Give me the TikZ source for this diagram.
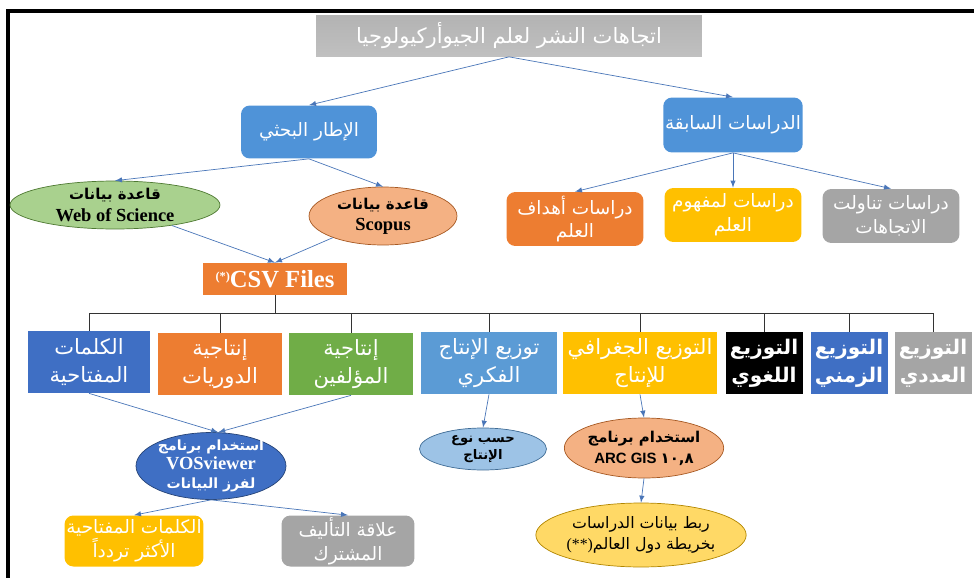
\documentclass[tikz,border=0pt]{standalone}
\usepackage{fontspec}
\setmainfont{Liberation Serif}
\setsansfont{Liberation Sans}
\newfontfamily\arabicfont[Script=Arabic]{DejaVu Sans}
\TeXXeTstate=1
\usetikzlibrary{shapes.geometric}

\newcommand\ar[1]{{\arabicfont\beginR #1\endR}}

\definecolor{titlegray}{HTML}{A0A0A0}
\definecolor{midblue}{HTML}{4F93D8}
\definecolor{darkblue}{HTML}{3F6FC4}
\definecolor{skyblue}{HTML}{5B9BD5}
\definecolor{boxorange}{HTML}{ED7D31}
\definecolor{boxyellow}{HTML}{FFC000}
\definecolor{boxgray}{HTML}{A5A5A5}
\definecolor{boxgreen}{HTML}{70AD47}
\definecolor{arrowblue}{HTML}{4A76B8}
\definecolor{wosgreen}{HTML}{A9D18E}
\definecolor{salmon}{HTML}{F4B183}
\definecolor{lightblue}{HTML}{9DC3E6}
\definecolor{lightyellow}{HTML}{FFD966}

\begin{document}
\begin{tikzpicture}[x=0.02cm, y=-0.02cm, >=latex]
    \useasboundingbox (0,0) rectangle (974,578);

    \tikzstyle{box} = [rectangle, text=white, align=center, inner sep=1pt, font=\arabicfont\fontsize{12}{16}\selectfont]
    \tikzstyle{narrow} = [box, font=\arabicfont\bfseries\fontsize{11.5}{16}\selectfont]
    \tikzstyle{rbox} = [box, rounded corners=5pt, font=\arabicfont\fontsize{10.5}{13.5}\selectfont]
    \tikzstyle{ell} = [ellipse, draw, align=center, inner xsep=0pt, inner ysep=-2pt, font=\arabicfont\bfseries\fontsize{8.5}{12}\selectfont]
    \tikzstyle{arr} = [->, arrowblue]
    \tikzstyle{tree} = [black!80]

    % frame
    \draw[line width=2.4pt] (8,578) -- (8,11) -- (974,11);

    \node[box, top color=titlegray!80, bottom color=titlegray!120!black, minimum width=7.72cm, minimum height=0.82cm, font=\arabicfont\fontsize{12}{14}\selectfont] (title) at (509,36) {\ar{اتجاهات النشر  لعلم الجيوأركيولوجيا}};

    \node[rbox, fill=midblue, minimum width=2.72cm, minimum height=1.06cm] (frame) at (309,132) {\ar{الإطار البحثي}};
    \node[rbox, fill=midblue, minimum width=2.74cm, minimum height=1.10cm] (studies) at (733,125) {\ar{الدراسات السابقة}};

    \node[ell, draw=boxgreen!70!black, fill=wosgreen, minimum width=4.2cm, minimum height=0.96cm] (wos) at (115,205) {\ar{قاعدة بيانات}\\{\rmfamily\bfseries\fontsize{10.5}{12}\selectfont Web of Science}};
    \node[ell, draw=boxorange!70!black, fill=salmon, minimum width=2.96cm, minimum height=1.16cm] (scopus) at (383,216) {\ar{قاعدة بيانات}\\{\rmfamily\bfseries\fontsize{10.5}{12}\selectfont Scopus}};

    \node[box, fill=boxorange, minimum width=2.9cm, minimum height=0.64cm, font=\rmfamily\bfseries\fontsize{14}{16}\selectfont] (csv) at (275,279) {{\fontsize{7}{8}\selectfont\raisebox{4pt}{(*)}}CSV Files};

    \node[rbox, fill=boxorange, minimum width=2.74cm, minimum height=1.08cm] (s1) at (575,219) {\ar{دراسات أهداف}\\\ar{العلم}};
    \node[rbox, fill=boxyellow, minimum width=2.74cm, minimum height=1.08cm] (s2) at (733,215) {\ar{دراسات لمفهوم}\\\ar{العلم}};
    \node[rbox, fill=boxgray, minimum width=2.74cm, minimum height=1.08cm] (s3) at (891,216) {\ar{دراسات تناولت}\\\ar{الاتجاهات}};

    % second level
    \node[box, fill=darkblue, minimum width=2.46cm, minimum height=1.24cm] (r1) at (89,362) {\ar{الكلمات}\\\ar{المفتاحية}};
    \node[box, fill=boxorange, minimum width=2.48cm, minimum height=1.24cm] (r2) at (220,364) {\ar{إنتاجية}\\\ar{الدوريات}};
    \node[box, fill=boxgreen, minimum width=2.48cm, minimum height=1.24cm] (r3) at (351,364) {\ar{إنتاجية}\\\ar{المؤلفين}};
    \node[box, fill=skyblue, minimum width=2.72cm, minimum height=1.24cm] (r4) at (489,363) {\ar{توزيع الإنتاج}\\\ar{الفكري}};
    \node[box, fill=boxyellow, minimum width=3.1cm, minimum height=1.24cm] (r5) at (640,363) {\ar{التوزيع الجغرافي}\\\ar{للإنتاج}};
    \node[narrow, fill=black, minimum width=1.54cm, minimum height=1.24cm] (r6) at (764,363) {\ar{التوزيع}\\\ar{اللغوي}};
    \node[narrow, fill=darkblue, minimum width=1.54cm, minimum height=1.24cm] (r7) at (849,363) {\ar{التوزيع}\\\ar{الزمني}};
    \node[narrow, fill=boxgray, minimum width=1.54cm, minimum height=1.24cm] (r8) at (933,363) {\ar{التوزيع}\\\ar{العددي}};

    % third level
    \node[ell, draw=darkblue!60!black, fill=darkblue, text=white, minimum width=2.44cm, minimum height=1.34cm, inner ysep=-5pt, font=\arabicfont\bfseries\fontsize{8}{11}\selectfont] (vos) at (211,466) {\ar{استخدام برنامج}\\{\rmfamily\bfseries\fontsize{10.5}{11}\selectfont VOSviewer}\\\ar{لفرز البيانات}};
    \node[ell, draw=skyblue!70!black, fill=lightblue, minimum width=2.54cm, minimum height=0.84cm, font=\arabicfont\bfseries\fontsize{7.5}{10}\selectfont] (hasb) at (483,449) {\ar{حسب نوع}\\\ar{الإنتاج}};
    \node[ell, draw=boxorange!70!black, fill=salmon, minimum width=2.96cm, minimum height=1.2cm, font=\arabicfont\bfseries\fontsize{8.5}{12}\selectfont] (arc) at (644,448) {\ar{استخدام برنامج}\\{\sffamily\bfseries ARC GIS {\arabicfont ١٠,٨}}};
    \node[ell, draw=boxyellow!70!black, fill=lightyellow, minimum width=3.76cm, minimum height=1.28cm, font=\arabicfont\fontsize{9}{12}\selectfont] (map) at (641,535) {\ar{ربط بيانات الدراسات}\\\ar{بخريطة دول العالم\mbox{\rmfamily(**)}}};

    \node[rbox, fill=boxyellow, minimum width=2.7cm, minimum height=1.02cm] (b1) at (134,541) {\ar{الكلمات المفتاحية}\\\ar{الأكثر تردداً}};
    \node[rbox, fill=boxgray, minimum width=2.66cm, minimum height=1.02cm] (b2) at (348,541) {\ar{علاقة التأليف}\\\ar{المشترك}};

    % arrows
    \draw[arr] (title.south) -- (frame.north);
    \draw[arr] (title.south) -- (studies.north);
    \draw[arr] (frame.south) -- (wos.north);
    \draw[arr] (frame.south) -- (scopus.north);
    \draw[arr] (wos) -- (csv.north);
    \draw[arr] (scopus) -- (csv.north);
    \draw[arr] (studies.south) -- (s1.north);
    \draw[arr] (studies.south) -- (s2.north);
    \draw[arr] (studies.south) -- (s3.north);

    \foreach \n in {r1,r2,r3,r4,r5,r6,r7,r8}
        \draw[tree] (csv.south) -- ++(0,18) -| (\n.north);

    \draw[arr] (r1.south) -- (vos.78);
    \draw[arr] (r3.south) -- (vos.78);
    \draw[arr] (vos.south) -- (b1.north);
    \draw[arr] (vos.south) -- (b2.north);
    \draw[arr] (r4.south) -- (hasb.north);
    \draw[arr] (r5.south) -- (arc.north);
    \draw[arr] (arc.south) -- (map.north);
\end{tikzpicture}
\end{document}
